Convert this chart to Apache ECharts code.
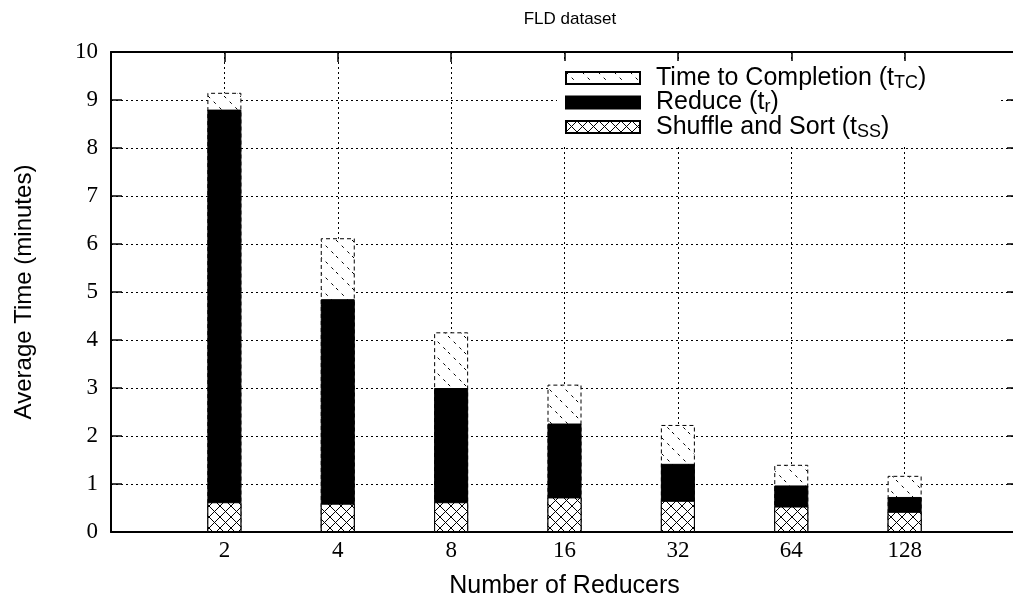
<!DOCTYPE html>
<html>
<head>
<meta charset="utf-8">
<script src="https://cdn.jsdelivr.net/npm/echarts@6/dist/echarts.min.js"></script>
<style>
html,body{margin:0;padding:0;background:#fff;}
#c{width:1013px;height:611px;}
</style>
</head>
<body>
<div id="c"></div>
<script>
var categories = ['2', '4', '8', '16', '32', '64', '128'];
var completion = [9.15, 6.12, 4.16, 3.07, 2.23, 1.40, 1.17];
var reduce = [8.80, 4.85, 3.00, 2.26, 1.42, 0.97, 0.73];
var shuffle = [0.62, 0.59, 0.62, 0.72, 0.65, 0.53, 0.42];
var yTicks = [0, 1, 2, 3, 4, 5, 6, 7, 8, 9, 10];

function makeCanvas(size, draw) {
  var c = document.createElement('canvas');
  c.width = size; c.height = size;
  var ctx = c.getContext('2d');
  ctx.fillStyle = '#fff';
  ctx.fillRect(0, 0, size, size);
  draw(ctx, size);
  return c;
}
var tcPattern = makeCanvas(16, function (ctx, s) {
  ctx.strokeStyle = '#000';
  ctx.lineWidth = 1;
  ctx.setLineDash([3, 5]);
  ctx.beginPath();
  ctx.moveTo(0, 0); ctx.lineTo(s, s);
  ctx.stroke();
});
var xPattern = makeCanvas(11, function (ctx, s) {
  ctx.strokeStyle = '#000';
  ctx.lineWidth = 1;
  ctx.beginPath();
  ctx.moveTo(0, 0); ctx.lineTo(s, s);
  ctx.moveTo(s, 0); ctx.lineTo(0, s);
  ctx.stroke();
});

function pairs(arr) { return arr.map(function (v, i) { return [i, v]; }); }

var sansFont = 'Liberation Sans';
var serifFont = 'Liberation Serif';
var legendRich = {
  n: { fontSize: 25, lineHeight: 22, fontFamily: sansFont, color: '#000' },
  s: { fontSize: 18, lineHeight: 14, fontFamily: sansFont, color: '#000', padding: [10, 0, 0, 0] }
};
var names = {
  tc: 'Time to Completion (tTC)',
  r: 'Reduce (tr)',
  ss: 'Shuffle and Sort (tSS)'
};
var nameRich = {};
nameRich[names.tc] = '{n|Time to Completion (t}{s|TC}{n|)}';
nameRich[names.r] = '{n|Reduce (t}{s|r}{n|)}';
nameRich[names.ss] = '{n|Shuffle and Sort (t}{s|SS}{n|)}';

var xCommon = {
  type: 'value', min: -1, max: 7, interval: 1,
  axisLine: { show: true, onZero: false, lineStyle: { color: '#000', width: 2 } },
  axisTick: { show: true, inside: true, length: 10, lineStyle: { color: '#000', width: 1.5 } }
};
var yCommon = {
  type: 'value', min: 0, max: 10, interval: 1,
  axisLine: { show: true, onZero: false, lineStyle: { color: '#000', width: 2 } },
  axisTick: { show: true, inside: true, length: 11, lineStyle: { color: '#000', width: 1.5 } }
};

var chart = echarts.init(document.getElementById('c'), null, { renderer: 'canvas' });
chart.setOption({
  animation: false,
  backgroundColor: '#fff',
  title: {
    text: 'FLD dataset', left: 565, top: 6, textAlign: 'center',
    textStyle: { fontFamily: sansFont, fontSize: 17, fontWeight: 'normal', color: '#000' }
  },
  grid: { left: 111, width: 907, top: 52, height: 480, containLabel: false, outerBoundsMode: 'none' },
  legend: {
    orient: 'vertical', left: 557, top: 61,
    data: [names.tc, names.r, names.ss],
    icon: 'rect',
    itemWidth: 74, itemHeight: 12, itemGap: -3.5,
    padding: [3, 73, 4, 8],
    backgroundColor: '#fff',
    formatter: function (n) { return nameRich[n]; },
    textStyle: { rich: legendRich, padding: [0, 0, 0, 11] }
  },
  xAxis: [
    Object.assign({}, xCommon, {
      position: 'bottom',
      name: 'Number of Reducers', nameLocation: 'middle', nameGap: 42,
      nameTextStyle: { fontFamily: sansFont, fontSize: 25, color: '#000' },
      axisLabel: {
        margin: 7, fontFamily: serifFont, fontSize: 23, color: '#000',
        formatter: function (v) { return categories[v] !== undefined ? categories[v] : ''; }
      },
      splitLine: { show: true, lineStyle: { color: '#000', width: 1, type: [2, 3] } }
    }),
    Object.assign({}, xCommon, {
      position: 'top', axisLabel: { show: false }, splitLine: { show: false }
    })
  ],
  yAxis: [
    Object.assign({}, yCommon, {
      position: 'left',
      name: 'Average Time (minutes)', nameLocation: 'middle', nameGap: 75,
      nameTextStyle: { fontFamily: sansFont, fontSize: 24, color: '#000' },
      axisLabel: {
        margin: 13, fontFamily: serifFont, fontSize: 23, color: '#000',
        formatter: function (v) { return yTicks.indexOf(v) >= 0 ? String(v) : ''; }
      },
      splitLine: { show: true, lineStyle: { color: '#000', width: 1, type: [2, 3] } }
    }),
    Object.assign({}, yCommon, {
      position: 'right', axisLabel: { show: false }, splitLine: { show: false }
    })
  ],
  series: [
    {
      name: names.tc, type: 'bar', xAxisIndex: 0, yAxisIndex: 0,
      barWidth: 34, barGap: '-100%',
      data: pairs(completion),
      itemStyle: { color: { image: tcPattern, repeat: 'repeat' }, borderColor: '#000', borderWidth: 1, borderType: [4, 3] }
    },
    {
      name: names.r, type: 'bar', xAxisIndex: 0, yAxisIndex: 0,
      barWidth: 34, barGap: '-100%',
      data: pairs(reduce),
      itemStyle: { color: '#000', borderColor: '#000', borderWidth: 1 }
    },
    {
      name: names.ss, type: 'bar', xAxisIndex: 0, yAxisIndex: 0,
      barWidth: 34, barGap: '-100%',
      data: pairs(shuffle),
      itemStyle: { color: { image: xPattern, repeat: 'repeat' }, borderColor: '#000', borderWidth: 1 }
    }
  ]
});
</script>
</body>
</html>
